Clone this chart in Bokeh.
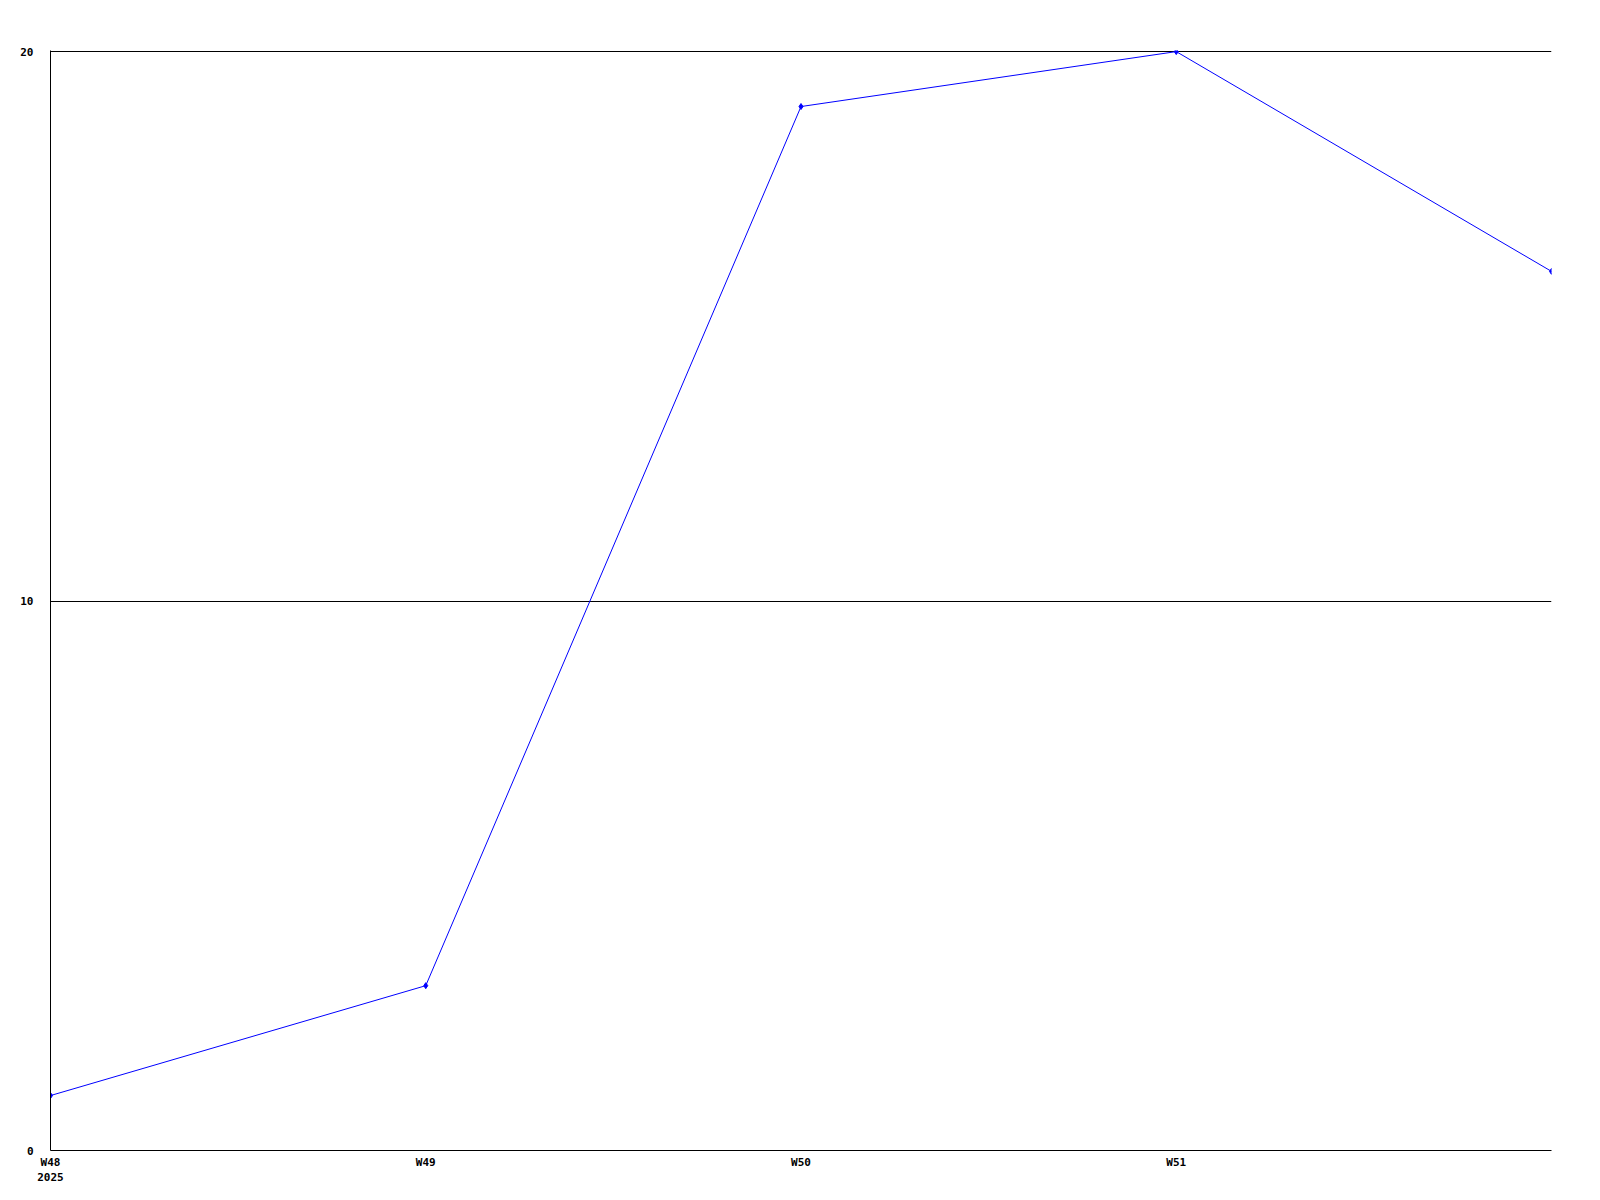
from bokeh.plotting import figure
from bokeh.models import Range1d, FixedTicker
from bokeh.embed import file_html
from bokeh.resources import INLINE

weeks = [48, 49, 50, 51, 52]
values = [1, 3, 19, 20, 16]
x_tick_values = [48, 49, 50, 51]
x_tick_labels = ["W48\n2025", "W49", "W50", "W51"]
y_tick_values = [0, 10, 20]

p = figure(width=1592, height=1192, x_range=Range1d(48, 52), y_range=Range1d(0, 20.02),
           output_backend="svg", toolbar_location=None)
p.outline_line_color = None
p.min_border_left = 50
p.min_border_right = 41
p.min_border_top = 50
p.min_border_bottom = 42
p.background_fill_color = "white"
p.border_fill_color = "white"

p.xgrid.visible = False
p.ygrid.grid_line_color = "black"
p.ygrid.grid_line_width = 1
p.ygrid.ticker = FixedTicker(ticks=y_tick_values)

font = "DejaVu Sans Mono"
for ax in (p.xaxis[0], p.yaxis[0]):
    ax.major_tick_out = 0
    ax.major_tick_in = 0
    ax.minor_tick_out = 0
    ax.minor_tick_in = 0
    ax.axis_line_color = "black"
    ax.axis_line_width = 1
    ax.major_label_text_font = font
    ax.major_label_text_font_style = "bold"
    ax.major_label_text_font_size = "11px"
    ax.major_label_text_color = "black"

p.xaxis[0].ticker = FixedTicker(ticks=x_tick_values)
p.xaxis[0].major_label_overrides = {t: l for t, l in zip(x_tick_values, x_tick_labels)}
p.xaxis[0].major_label_standoff = 5
p.yaxis[0].ticker = FixedTicker(ticks=y_tick_values)
p.yaxis[0].major_label_standoff = 17

p.line(weeks, values, line_color="#0000ff", line_width=1)
p.scatter(weeks, values, marker="diamond", size=6, fill_color="#0000ff", line_color="#0000ff")

open("out.html", "w").write(file_html(p, INLINE))
